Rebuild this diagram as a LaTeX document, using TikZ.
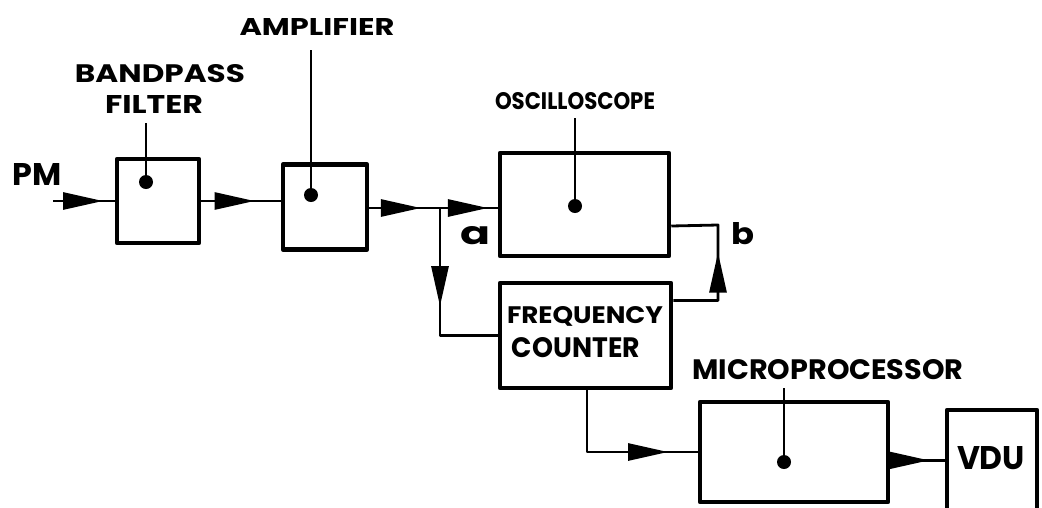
\documentclass[tikz,border=0pt]{standalone}
\usepackage{fontspec}
\setmainfont{Poppins}
\usetikzlibrary{arrows.meta,decorations.markings,calc}
\newcommand\lbl[3]{\resizebox{#1pt}{#2pt}{\fontsize{22}{24}\selectfont\bfseries #3}}
\begin{document}
\begin{tikzpicture}[x=1pt,y=-1pt,line join=round,
  blk/.style={draw,line width=4.5pt,inner sep=0pt},
  conn/.style={line width=2.8pt},
  lead/.style={line width=2.6pt},
  dotn/.style={circle,fill,inner sep=0pt,minimum size=14pt},
  txt/.style={inner sep=0pt},
  arr/.style={postaction={decorate,decoration={markings,mark=at position #1 with {\arrow{Triangle[length=40pt,width=17pt]}}}}}]
\useasboundingbox (0,0) rectangle (1042,507);
\fill[white] (0,0) rectangle (1042,507);
\clip (0,0) rectangle (1042,507);
% blocks
\node[blk,minimum width=82pt,minimum height=84pt] (filter) at (158,201) {};
\node[blk,minimum width=84pt,minimum height=85pt] (amp) at (325,207) {};
\node[blk,minimum width=169pt,minimum height=103pt] (osc) at (584.5,204.5) {};
\node[blk,minimum width=171pt,minimum height=105pt] (freq) at (585.5,335.5) {};
\node[blk,minimum width=188pt,minimum height=100pt] (micro) at (794,452) {};
\node[blk,minimum width=90pt,minimum height=110pt] (vdu) at (992,465) {};
% labels
\node[txt] (pm) at (37,174) {\lbl{49}{22}{PM}};
\node[txt] (bandl) at (160,74) {\lbl{170}{18}{BANDPASS}};
\node[txt] (filtl) at (154,104) {\lbl{98}{18}{FILTER}};
\node[txt] (ampl) at (317,27) {\lbl{155}{17}{AMPLIFIER}};
\node[txt] (oscl) at (575,101) {\lbl{160}{17}{OSCILLOSCOPE}};
\node[txt] (freql) at (585,316) {\lbl{156}{17}{FREQUENCY}};
\node[txt] (countl) at (576,348) {\lbl{128}{20}{COUNTER}};
\node[txt] (microl) at (828,370) {\lbl{271}{20}{MICROPROCESSOR}};
\node[txt] (vdul) at (991,458) {\lbl{68}{23}{VDU}};
\node[txt] (al) at (475,236) {\lbl{30}{18}{a}};
\node[txt] (bl) at (743,234) {\lbl{23}{22}{b}};
% dots and leaders
\node[dotn] (fdot) at (146,182) {};
\node[dotn] (adot) at (311,195) {};
\node[dotn] (odot) at (575,206) {};
\node[dotn] (mdot) at (784,462) {};
\coordinate (ftop) at (146,123);
\coordinate (atop) at (311,50);
\coordinate (otop) at (575,118);
\coordinate (mtop) at (784,388);
\draw[lead] (fdot.center) -- (ftop);
\draw[lead] (adot.center) -- (atop);
\draw[lead] (odot.center) -- (otop);
\draw[lead] (mdot.center) -- (mtop);
% connectors
\coordinate (pmin) at (53,201);
\coordinate (ja) at (440,208);
\coordinate (oo) at ($(osc.south east)!0.3!(osc.north east)$);
\coordinate (fo) at ($(freq.south east)!0.82!(freq.north east)$);
\coordinate (bc) at (718,225);
\coordinate (mo) at ($(micro.south east)!0.42!(micro.north east)$);
\coordinate (fs) at (587,388);
\draw[conn,arr=0.81] (pmin) -- (filter.west);
\draw[conn,arr=0.67] (filter.east) -- (filter.east -| amp.west);
\draw[conn,arr=0.73] (amp.east |- ja) -- (ja);
\draw[conn,arr=0.83] (ja) -- (ja -| osc.west);
\draw[conn,arr=0.53] (ja) |- (freq.west);
\draw[conn,arr=0.555] (fo) -| (bc) -- (oo);
\draw[conn,arr=0.83] (fs) |- (micro.west);
\draw[conn,arr=0.71] (mo) -- (mo -| vdu.west);
\end{tikzpicture}
\end{document}
